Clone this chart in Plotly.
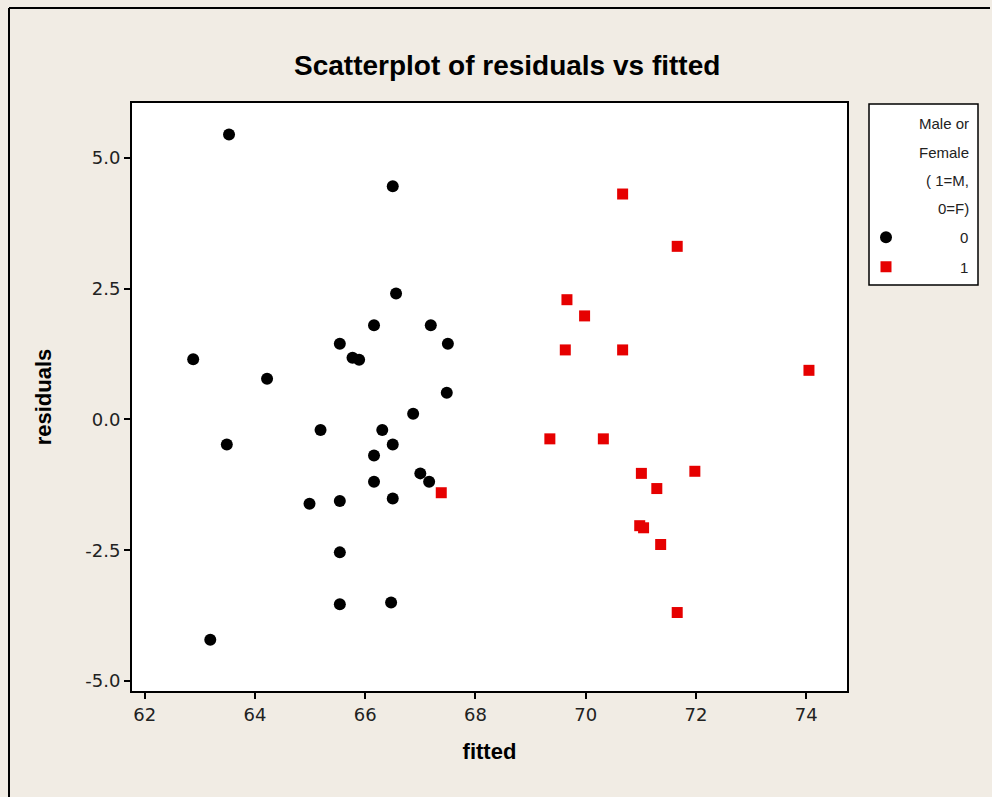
import plotly.graph_objects as go

# Data
female_fitted = [63.53, 66.50, 66.56, 62.88, 64.22, 65.54, 65.77, 65.89, 66.16, 67.19,
                 67.50, 67.48, 66.87, 65.19, 66.31, 66.50, 63.49, 66.16, 67.00, 67.16,
                 66.16, 64.99, 65.54, 66.50, 65.54, 65.54, 66.47, 63.19]
female_resid = [5.45, 4.46, 2.41, 1.15, 0.78, 1.45, 1.18, 1.14, 1.80, 1.80,
                1.45, 0.51, 0.11, -0.20, -0.20, -0.48, -0.48, -0.69, -1.03, -1.19,
                -1.19, -1.61, -1.56, -1.51, -2.54, -3.53, -3.50, -4.21]
male_fitted = [70.67, 71.66, 69.66, 69.98, 69.63, 70.67, 74.05, 69.35, 70.32, 71.01,
               71.98, 71.29, 70.98, 71.05, 71.36, 71.66, 67.38]
male_resid = [4.31, 3.31, 2.29, 1.98, 1.33, 1.33, 0.94, -0.37, -0.37, -1.03,
              -0.99, -1.32, -2.03, -2.07, -2.39, -3.69, -1.40]

x_ticks = [62, 64, 66, 68, 70, 72, 74]
y_ticks = [-5.0, -2.5, 0.0, 2.5, 5.0]
y_tick_labels = ["-5.0", "-2.5", "0.0", "2.5", "5.0"]
legend_title_lines = ["Male or", "Female", "( 1=M,", "0=F)"]

W, H = 992, 797
L, R, T, B = 132, 145, 103, 106
pw, ph = W - L - R, H - T - B


def px(xp):
    return (xp - L) / pw


def py(yp):
    return (H - B - yp) / ph


fig = go.Figure()
fig.add_trace(go.Scatter(x=female_fitted, y=female_resid, mode="markers", name="0",
                         legendgroup="g0",
                         marker=dict(symbol="circle", size=12, color="black",
                                     line=dict(width=0))))
fig.add_trace(go.Scatter(x=male_fitted, y=male_resid, mode="markers", name="1",
                         legendgroup="g1",
                         marker=dict(symbol="square", size=11, color="#E60000",
                                     line=dict(width=0))))

tick_font = dict(family="DejaVu Sans", size=18, color="#222222")
axis_common = dict(showline=True, linecolor="black", linewidth=2, mirror=True,
                   ticks="outside", ticklen=6, tickwidth=1.5, tickcolor="black",
                   showgrid=False, zeroline=False, tickfont=tick_font)

fig.update_xaxes(range=[61.77, 74.74], tickvals=x_ticks, **axis_common,
                 title=dict(text="<b>fitted</b>", standoff=20,
                            font=dict(family="Liberation Sans", size=22, color="black")))
fig.update_yaxes(range=[-5.19, 6.05], tickvals=y_ticks, ticktext=y_tick_labels, **axis_common,
                 title=dict(text="<b>residuals</b>", standoff=28,
                            font=dict(family="Liberation Sans", size=22, color="black")))

annotations = [dict(text="<b>Scatterplot of residuals vs fitted</b>", xref="paper", yref="paper",
                    x=px(507), y=py(65), xanchor="center", yanchor="middle", showarrow=False,
                    font=dict(family="Liberation Sans", size=28, color="black"))]
title_y = [123, 152, 180, 208]
for line, yy in zip(legend_title_lines, title_y):
    annotations.append(dict(text=line, xref="paper", yref="paper", x=px(971), y=py(yy),
                            xanchor="right", yanchor="middle", showarrow=False,
                            font=dict(family="Liberation Sans", size=15, color="#222222")))

shapes = [
    dict(type="rect", xref="paper", yref="paper", x0=px(869), x1=px(978), y0=py(104), y1=py(285),
         line=dict(color="black", width=1.5), fillcolor="white", layer="below"),
    dict(type="line", xref="paper", yref="paper", x0=px(9), x1=px(990), y0=py(8), y1=py(8),
         line=dict(color="black", width=2)),
    dict(type="line", xref="paper", yref="paper", x0=px(9), x1=px(9), y0=py(8), y1=py(797),
         line=dict(color="black", width=2)),
]

fig.update_layout(
    width=W, height=H,
    margin=dict(l=L, r=R, t=T, b=B, pad=0),
    paper_bgcolor="#F1ECE4", plot_bgcolor="white",
    showlegend=True,
    legend=dict(x=px(812), y=py(221), xanchor="left", yanchor="top",
                bgcolor="rgba(0,0,0,0)", borderwidth=0,
                traceorder="grouped", tracegroupgap=7, itemwidth=138,
                font=dict(family="Liberation Sans", size=15, color="#222222")),
    annotations=annotations, shapes=shapes,
)

fig.write_html("out.html")
